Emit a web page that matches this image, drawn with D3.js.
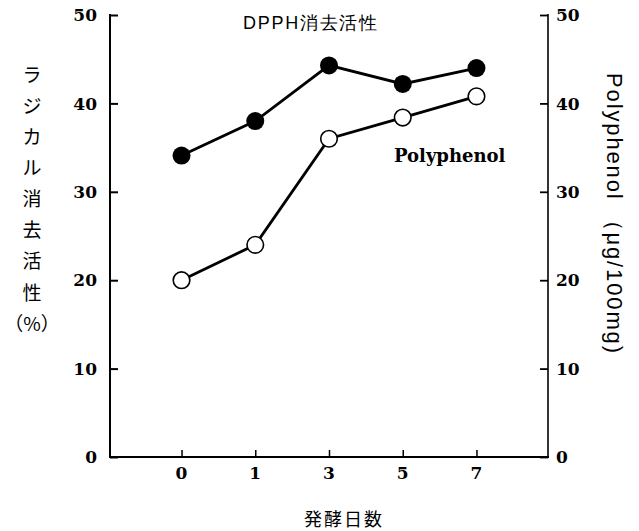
<!DOCTYPE html>
<html><head><meta charset="utf-8">
<script src="https://cdn.jsdelivr.net/npm/d3@7"></script>
<style>
html,body{margin:0;padding:0;background:#fff;}
svg{display:block;}
</style></head>
<body>
<script>
const days = ["0","1","3","5","7"];
const dpph = [34.1, 38.0, 44.3, 42.2, 44.0];
const polyphenol = [20.0, 24.0, 36.0, 38.4, 40.8];
const yTicks = [0, 10, 20, 30, 40, 50];
const leftLabel = ["ラ","ジ","カ","ル","消","去","活","性","（%）"];
const rightLabel = "Polyphenol （μg/100mg)";
const xLabel = "発酵日数";
const titleText = "DPPH消去活性";
const seriesLabel = "Polyphenol";

const W = 639, H = 531;
const L = 110, R = 548, T = 15, B = 457;
const svg = d3.select("body").append("svg").attr("width", W).attr("height", H);

const x = d3.scalePoint().domain(days).range([L, R]).padding(0.97);
const y = d3.scaleLinear().domain([0, 50]).range([B, T]);

const serif = "'DejaVu Serif', 'Liberation Serif', serif";
const sans = "'Liberation Sans', Arial, sans-serif";
const cjk = "'Noto Sans CJK JP', 'Noto Sans', sans-serif";

// Left axis
const gL = svg.append("g").attr("transform", `translate(${L},0)`)
  .call(d3.axisRight(y).tickValues(yTicks).tickSize(8).tickFormat(""));
gL.select(".domain").remove();
gL.selectAll(".tick line").attr("stroke", "#000").attr("stroke-width", 2);
svg.append("line").attr("x1", L).attr("x2", L).attr("y1", T - 1).attr("y2", B + 1)
  .attr("stroke", "#000").attr("stroke-width", 2);
svg.append("g").selectAll("text").data(yTicks).join("text")
  .attr("x", 97).attr("y", d => y(d)).attr("dy", "0.36em")
  .attr("text-anchor", "end").attr("font-family", serif).attr("font-weight", "bold")
  .attr("font-size", 17).text(d => d);

// Right axis
const gR = svg.append("g").attr("transform", `translate(${R},0)`)
  .call(d3.axisLeft(y).tickValues(yTicks).tickSize(8).tickFormat(""));
gR.select(".domain").remove();
gR.selectAll(".tick line").attr("stroke", "#000").attr("stroke-width", 1.8);
svg.append("line").attr("x1", R).attr("x2", R).attr("y1", T - 1).attr("y2", B + 1)
  .attr("stroke", "#000").attr("stroke-width", 1.6);
svg.append("g").selectAll("text").data(yTicks).join("text")
  .attr("x", 556).attr("y", d => y(d)).attr("dy", "0.36em")
  .attr("text-anchor", "start").attr("font-family", serif).attr("font-weight", "bold")
  .attr("font-size", 17).text(d => d);

// Bottom axis
const gB = svg.append("g").attr("transform", `translate(0,${B})`)
  .call(d3.axisTop(x).tickSize(7).tickFormat(""));
gB.select(".domain").remove();
gB.selectAll(".tick line").attr("stroke", "#000").attr("stroke-width", 1.5);
svg.append("line").attr("x1", L - 1).attr("x2", R + 1).attr("y1", B).attr("y2", B)
  .attr("stroke", "#000").attr("stroke-width", 2);
svg.append("g").selectAll("text").data(days).join("text")
  .attr("x", d => x(d)).attr("y", 479)
  .attr("text-anchor", "middle").attr("font-family", serif).attr("font-weight", "bold")
  .attr("font-size", 17).text(d => d);

// Lines
const line = d3.line().x((d, i) => x(days[i])).y(d => y(d));
svg.append("path").datum(dpph).attr("d", line).attr("fill", "none")
  .attr("stroke", "#000").attr("stroke-width", 2.8);
svg.append("path").datum(polyphenol).attr("d", line).attr("fill", "none")
  .attr("stroke", "#000").attr("stroke-width", 2.8);

svg.append("g").selectAll("circle").data(dpph).join("circle")
  .attr("cx", (d, i) => x(days[i])).attr("cy", d => y(d)).attr("r", 9)
  .attr("fill", "#000");
svg.append("g").selectAll("circle").data(polyphenol).join("circle")
  .attr("cx", (d, i) => x(days[i])).attr("cy", d => y(d)).attr("r", 8.3)
  .attr("fill", "#fff").attr("stroke", "#000").attr("stroke-width", 1.6);

// Title and series label
svg.append("text").attr("x", 243).attr("y", 29).attr("font-family", sans)
  .attr("font-size", 18).attr("textLength", 134).attr("lengthAdjust", "spacing")
  .text(titleText);
svg.append("text").attr("x", 394).attr("y", 162).attr("font-family", serif)
  .attr("font-weight", "bold").attr("font-size", 18).text(seriesLabel);

// Left vertical label
svg.append("g").selectAll("text").data(leftLabel).join("text")
  .attr("x", 32).attr("y", (d, i) => 75 + i * 31.1).attr("dy", "0.36em")
  .attr("text-anchor", "middle").attr("font-family", cjk).attr("font-size", 19)
  .text(d => d);

// Right vertical label
svg.append("text")
  .attr("transform", `translate(607,73) rotate(90)`)
  .attr("font-family", sans).attr("font-size", 22)
  .attr("textLength", 280).attr("lengthAdjust", "spacing")
  .text(rightLabel);

// X label
svg.append("text").attr("x", 344).attr("y", 520).attr("dy", "0.36em")
  .attr("text-anchor", "middle").attr("font-family", cjk).attr("font-size", 18)
  .attr("letter-spacing", 2).text(xLabel);
</script>
</body></html>
